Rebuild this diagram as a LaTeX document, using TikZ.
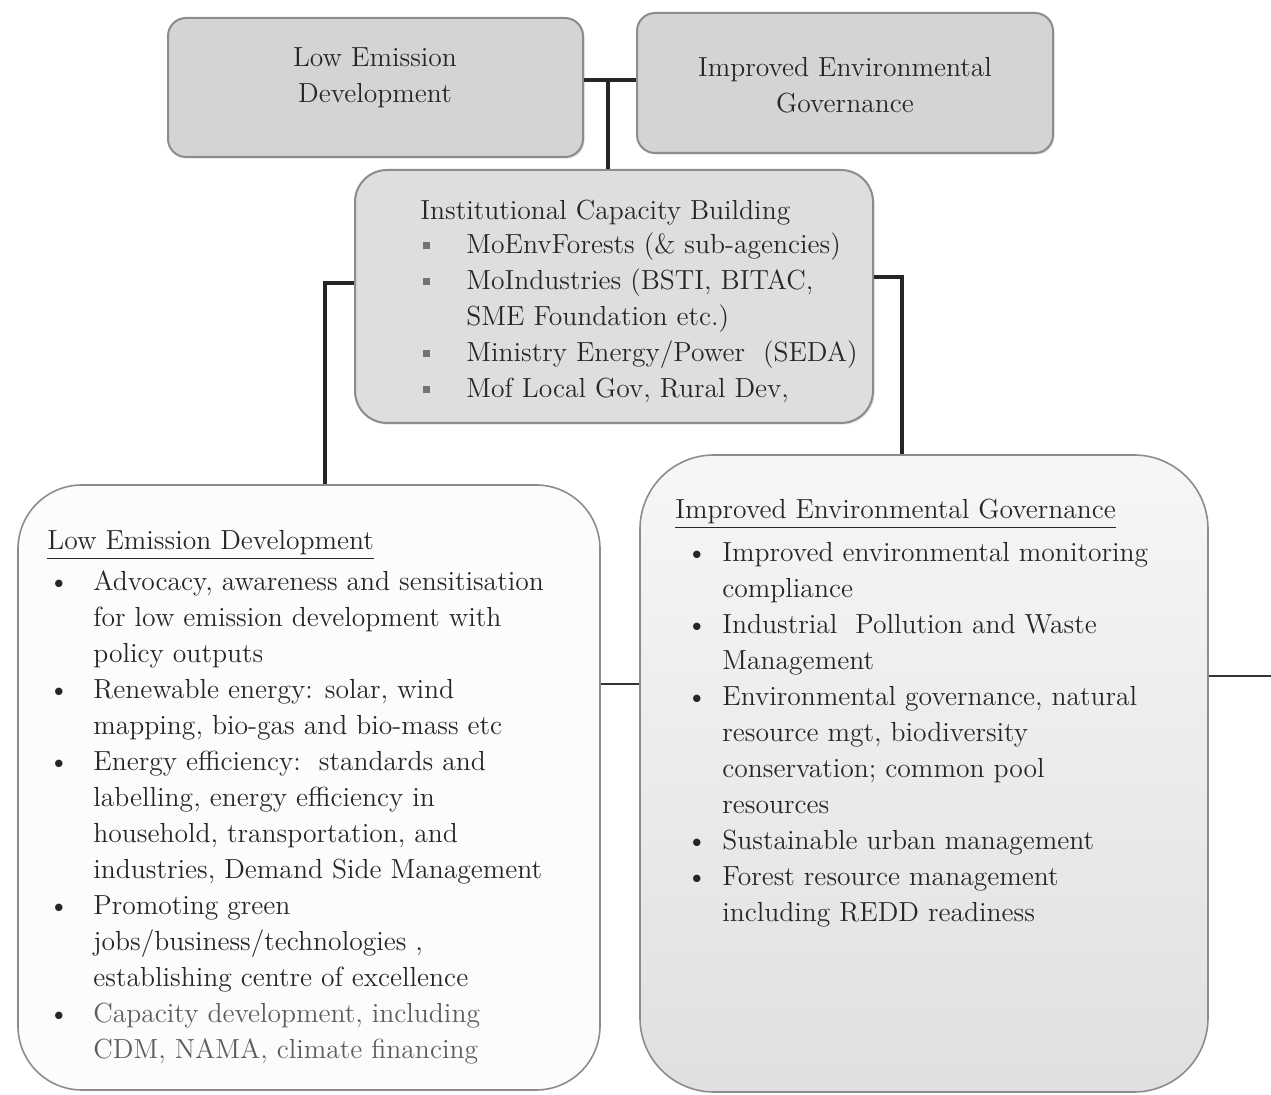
\documentclass[tikz,border=0pt]{standalone}
\usetikzlibrary{fit,shadows}
\definecolor{inkgray}{HTML}{262626}
\definecolor{rimgray}{HTML}{8C8C8C}
\definecolor{headfill}{HTML}{D4D4D4}
\definecolor{hubfill}{HTML}{DEDEE0}
\definecolor{paperfill}{HTML}{FCFCFC}
\definecolor{mistfill}{HTML}{EEEEF1}
\newcommand\squaremark{\textcolor{black!55}{\rule[0.18em]{3.4pt}{3.4pt}}}

\begin{document}
\begin{tikzpicture}[x = 0.5pt, y = -0.5pt,
    every node/.style = {font = \fontsize{13.8}{18}\selectfont, text = inkgray, inner sep = 0pt},
    headbox/.style = {draw = rimgray, fill = headfill, line width = 1pt, rounded corners = 9pt,
      drop shadow = {shadow xshift = 0.8pt, shadow yshift = -0.8pt, opacity = 0.25}},
    hubbox/.style = {headbox, fill = hubfill, rounded corners = 16pt},
    listbox/.style = {draw = rimgray, line width = 0.8pt, rounded corners = #1},
    link/.style = {line width = 1.6pt, draw = black!85},
    thinlink/.style = {line width = 0.6pt, draw = black!80}]
  \useasboundingbox (0, 0) rectangle (1271, 1095);

  \node[headbox, fit = {(168, 18) (583, 157)}] (lowhead) {};
  \node[headbox, fit = {(637, 13) (1053, 153)}] (envhead) {};
  \node[hubbox, fit = {(355, 170) (873, 423)}] (capacity) {};
  \node[listbox = 32pt, fill = paperfill, fit = {(18, 485) (600, 1090)}] (lowbox) {};
  \node[listbox = 37pt, top color = white!50!mistfill, bottom color = mistfill!94!black,
    fit = {(640, 455) (1208, 1092)}] (envbox) {};

  \node[anchor = base] (lowheadtext) at (375, 67)
    {\begin{tabular}[t]{@{}c@{}}Low Emission\\Development\end{tabular}};
  \node[anchor = base] (envheadtext) at (845, 77)
    {\begin{tabular}[t]{@{}c@{}}Improved Environmental\\Governance\end{tabular}};

  \node[anchor = base west] (capacitytitle) at (420, 220) {Institutional Capacity Building};
  \node[anchor = base west] (capacitylist) at (423, 254)
    {\begin{tabular}[t]{@{}p{21.5pt}@{}l@{}}
      \squaremark & MoEnvForests (\& sub-agencies)\\
      \squaremark & MoIndustries (BSTI, BITAC,\\
                  & SME Foundation etc.)\\
      \squaremark & Ministry Energy/Power\ \ (SEDA)\\
      \squaremark & Mof Local Gov, Rural Dev,
    \end{tabular}};

  \node[anchor = base west] (lowtitle) at (47, 550) {\underline{Low Emission Development}};
  \node[anchor = base west] (lowlist) at (48, 591)
    {\begin{tabular}[t]{@{}p{22.5pt}@{}l@{}}
      \textbullet & Advocacy, awareness and sensitisation\\
                  & for low emission development with\\
                  & policy outputs\\
      \textbullet & Renewable energy: solar, wind\\
                  & mapping, bio-gas and bio-mass etc\\
      \textbullet & Energy efficiency:\ \ standards and\\
                  & labelling, energy efficiency in\\
                  & household, transportation, and\\
                  & industries, Demand Side Management\\
      \textbullet & Promoting green\\
                  & jobs/business/technologies ,\\
                  & establishing centre of excellence\\
      \textbullet & \textcolor{inkgray!75}{Capacity development, including}\\
                  & \textcolor{inkgray!75}{CDM, NAMA, climate financing}
    \end{tabular}};

  \node[anchor = base west] (envtitle) at (675, 519) {\underline{Improved Environmental Governance}};
  \node[anchor = base west] (envlist) at (686, 562)
    {\begin{tabular}[t]{@{}p{18pt}@{}l@{}}
      \textbullet & Improved environmental monitoring\\
                  & compliance\\
      \textbullet & Industrial\ \ Pollution and Waste\\
                  & Management\\
      \textbullet & Environmental governance, natural\\
                  & resource mgt, biodiversity\\
                  & conservation; common pool\\
                  & resources\\
      \textbullet & Sustainable urban management\\
      \textbullet & Forest resource management\\
                  & including REDD readiness
    \end{tabular}};

  \coordinate (topjoin) at (608, 80);
  \coordinate (leftbend) at (325, 283);
  \coordinate (rightbend) at (902, 277);
  \coordinate (midjoin) at (620, 684);
  \coordinate (edgeend) at (1271, 676);

  \draw[link, line width = 2.2pt] (topjoin -| lowhead.east) -- (topjoin -| envhead.west);
  \draw[link] (topjoin) -- (topjoin |- capacity.north);
  \draw[link] (leftbend -| capacity.west) -- (leftbend) -- (leftbend |- lowbox.north);
  \draw[link] (rightbend -| capacity.east) -- (rightbend) -- (rightbend |- envbox.north);
  \draw[thinlink] (midjoin -| lowbox.east) -- (midjoin -| envbox.west);
  \draw[thinlink] (edgeend -| envbox.east) -- (edgeend);
\end{tikzpicture}
\end{document}
